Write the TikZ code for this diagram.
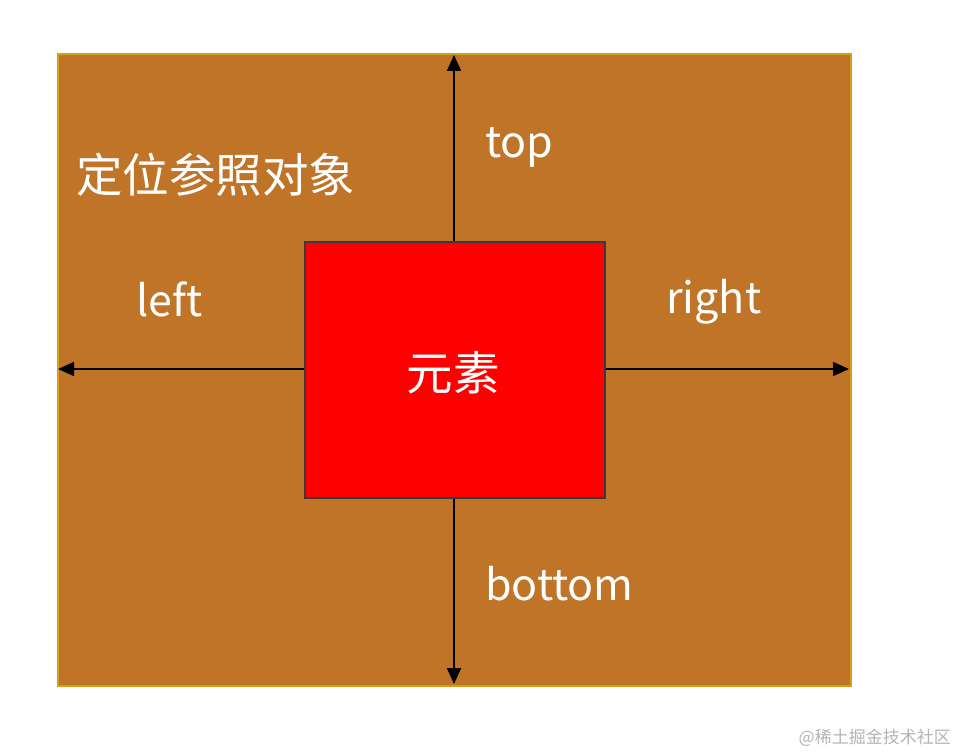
\documentclass[tikz,border=0pt]{standalone}
\usepackage{fontspec}
\setmainfont{Noto Sans CJK SC}
\usetikzlibrary{arrows.meta}
\definecolor{outerfill}{HTML}{C07428}
\definecolor{outerdraw}{HTML}{D4A017}
\definecolor{innerdraw}{HTML}{3A3A3A}
\definecolor{wm}{HTML}{B4B4B4}
\tikzset{
  lbl/.style={text=white, font=\fontsize{43}{48}\selectfont, inner sep=0pt},
  cjklbl/.style={text=white, font=\fontsize{46.5}{52}\selectfont, inner sep=0pt},
  axis/.style={line width=1.8pt, -{Triangle[length=16pt,width=14pt]}},
}
\begin{document}
\begin{tikzpicture}[x=1pt,y=-1pt]
\useasboundingbox (0,0) rectangle (958,754);
\fill[white] (0,0) rectangle (958,754);
\node[draw=outerdraw, fill=outerfill, line width=2pt, minimum width=793pt, minimum height=632pt, inner sep=0pt, anchor=north west] (outer) at (57,53) {};
\node[draw=innerdraw, fill=red, line width=2pt, minimum width=300pt, minimum height=256pt, inner sep=0pt, anchor=north west] (inner) at (304,241) {};
\coordinate (ctop) at (454,55);
\coordinate (cbot) at (454,684);
\coordinate (cleft) at (58,369);
\coordinate (cright) at (849,369);
\draw[axis] (inner.north -| ctop) -- (ctop);
\draw[axis] (inner.south -| cbot) -- (cbot);
\draw[axis] (inner.west |- cleft) -- (cleft);
\draw[axis] (inner.east |- cright) -- (cright);
\node[cjklbl, anchor=west] (ref) at (76,175) {定位参照对象};
\node[lbl, anchor=west] (top) at (485,147) {top};
\node[lbl, anchor=west] (left) at (136,299) {left};
\node[lbl, anchor=west] (right) at (666,302) {right};
\node[cjklbl] (el) at (453,373) {元素};
\node[lbl, anchor=west] (bottom) at (485,584) {bottom};
\node[text=wm, font=\fontsize{17}{20}\selectfont, inner sep=0pt, anchor=east] (wmk) at (951,738) {@稀土掘金技术社区};
\end{tikzpicture}
\end{document}
